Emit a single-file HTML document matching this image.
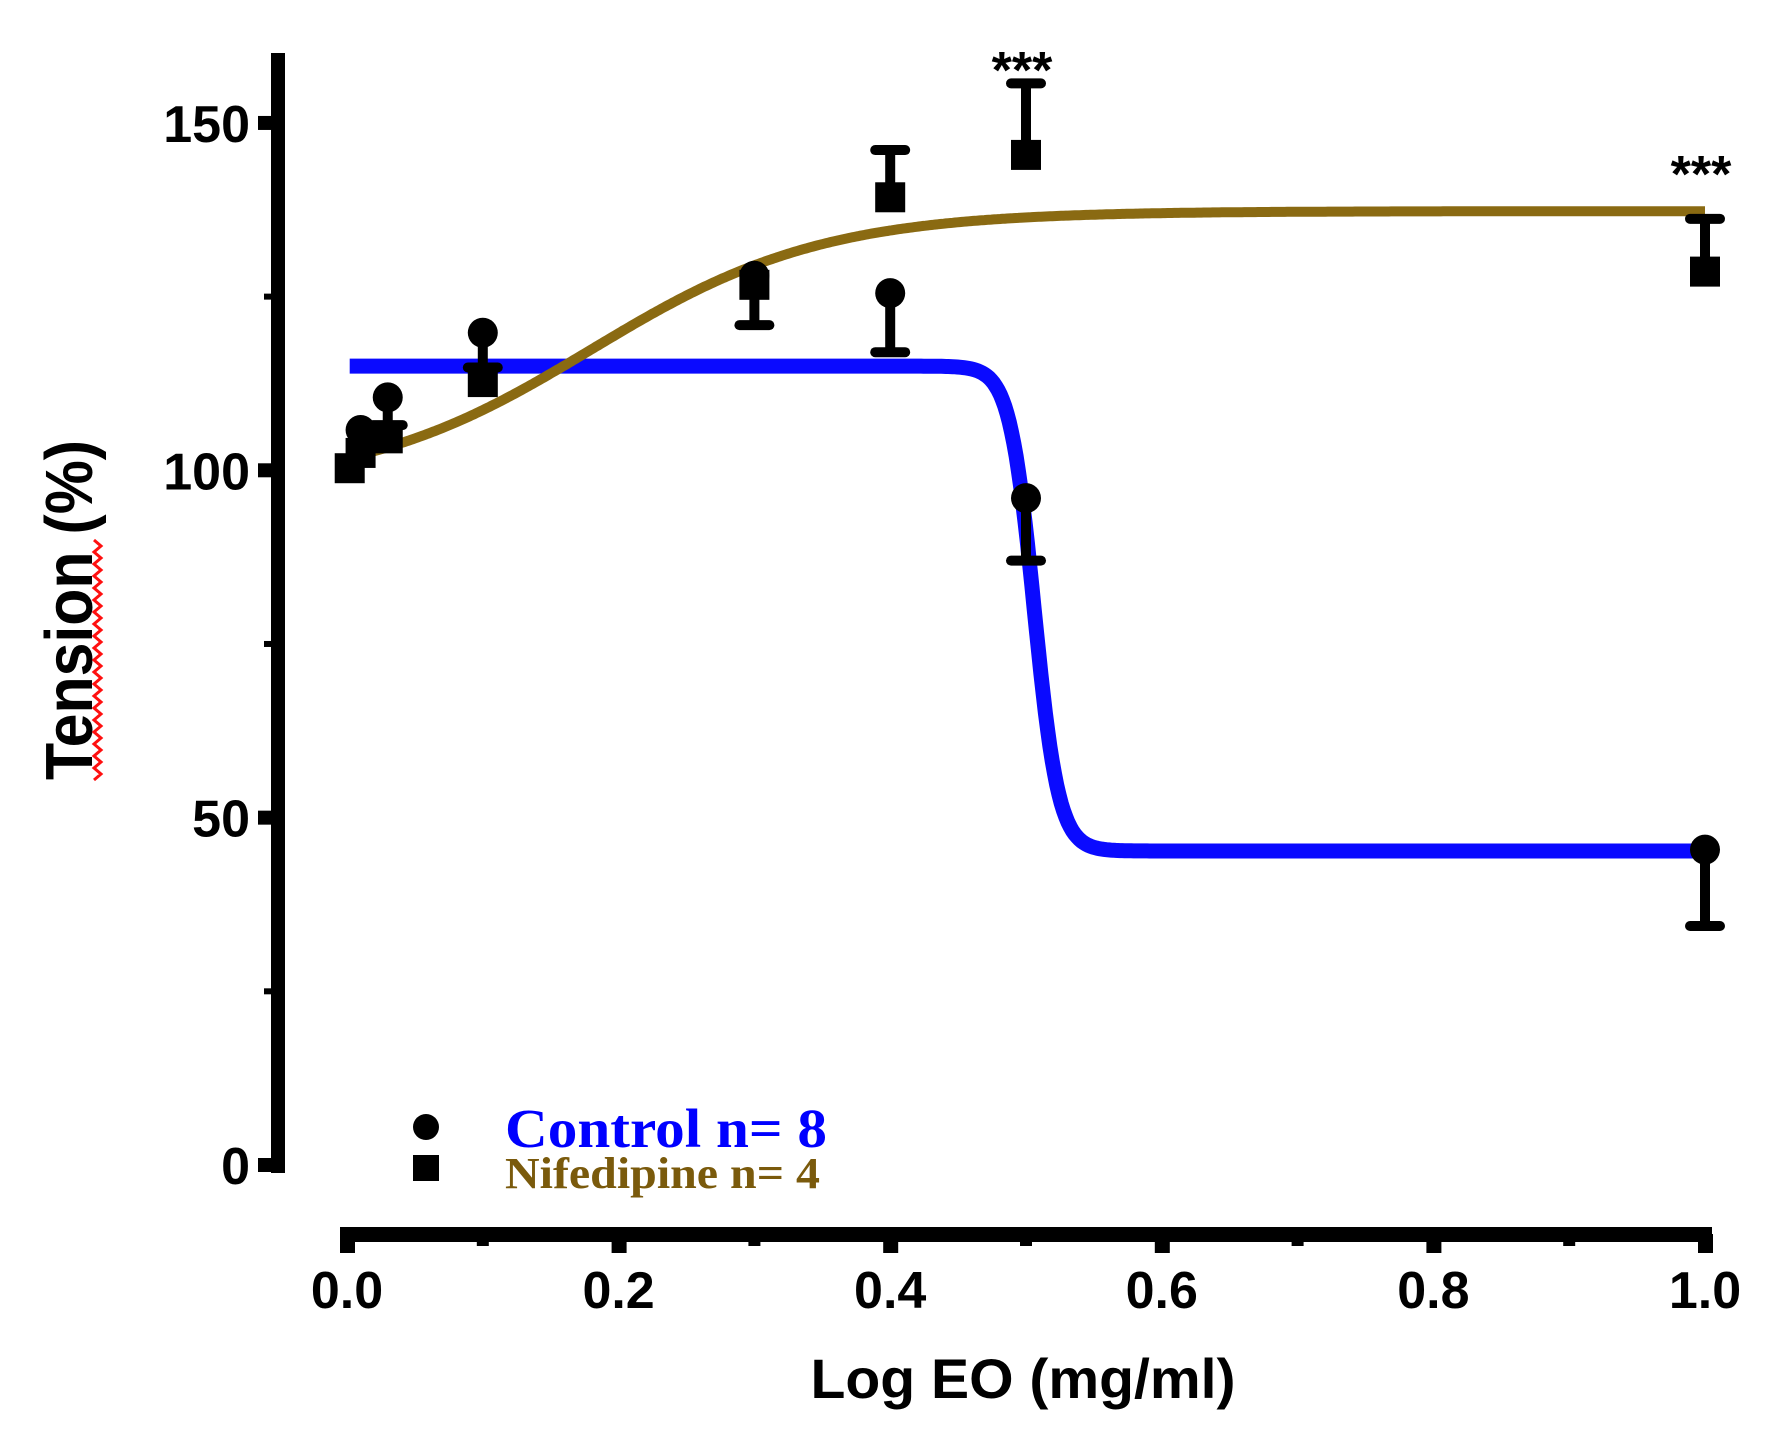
<!DOCTYPE html>
<html><head><meta charset="utf-8"><style>
html,body{margin:0;padding:0;background:#fff;}
svg{display:block;}
text{font-family:"Liberation Sans",sans-serif;font-weight:bold;}
</style></head><body>
<svg id="chart" width="1768" height="1429" viewBox="0 0 1768 1429" xmlns="http://www.w3.org/2000/svg">
<g id="axes"></g>
<g id="curves"></g>
<g id="marks"></g>
<g id="labels">
<text x="0" y="0" transform="translate(92,610) rotate(-90)" text-anchor="middle" font-size="67" textLength="340" lengthAdjust="spacingAndGlyphs" fill="#000">Tension (%)</text>
<polyline id="squiggle" fill="none" stroke="#ff1010" stroke-width="3"></polyline>
<text x="1023" y="1398" text-anchor="middle" font-size="56" textLength="425" lengthAdjust="spacingAndGlyphs" fill="#000">Log EO (mg/ml)</text>
<circle cx="426" cy="1127" r="13" fill="#000"></circle>
<rect x="413" y="1155" width="26" height="26" fill="#000"></rect>
<text x="505" y="1147" style="font-family:'Liberation Serif',serif" font-size="55" textLength="322" lengthAdjust="spacingAndGlyphs" fill="#0000ff">Control n= 8</text>
<text x="505" y="1188" style="font-family:'Liberation Serif',serif" font-size="44" textLength="315" lengthAdjust="spacingAndGlyphs" fill="#7a5a0c">Nifedipine n= 4</text>
</g>
</svg>
<script>
const xTicks = [0, 0.2, 0.4, 0.6, 0.8, 1.0];
const xTickLabels = ["0.0", "0.2", "0.4", "0.6", "0.8", "1.0"];
const yTicks = [0, 50, 100, 150];
const yTickLabels = ["0", "50", "100", "150"];
const controlX = [0.01, 0.03, 0.1, 0.3, 0.4, 0.5, 1.0];
const controlY = [105.8, 110.5, 119.8, 128, 125.5, 96, 45.4];
const controlErr = [0, -4, -5, 0, -8.5, -9, -11];
const nifX = [0.002, 0.01, 0.03, 0.1, 0.3, 0.4, 0.5, 1.0];
const nifY = [100.3, 102.5, 104.6, 112.7, 126.7, 139.3, 145.4, 128.6];
const nifErr = [0, 0, 0, 0, -5.8, 6.8, 10.3, 7.6];
const controlFit = [115, 45.2, 0.506, 0.009]; // top, bottom, midpoint, slope
const nifFit = [97.5, 137.3, 0.18, 0.085]; // bottom, top, midpoint, slope
const starX = [0.5, 1.0];
const starY = [158.5, 143.5];

const NS = "http://www.w3.org/2000/svg";
const X = v => 347 + v * 1358;
const Y = v => 1165 - v * 6.947;
function mk(parent, tag, attrs) {
  const el = document.createElementNS(NS, tag);
  for (const k in attrs) el.setAttribute(k, attrs[k]);
  document.getElementById(parent).appendChild(el);
  return el;
}
let a = mk('axes','rect',{x:271,y:53,width:14,height:1120,fill:'#000'});


a = mk('axes','rect',{x:340,y:1227,width:1372,height:15,fill:'#000'});


yTicks.forEach((v,i)=>{
  const t = mk('axes','rect',{x:258,y:Y(v)-7,width:20,height:14,fill:'#000'});
  
  
  const l = mk('axes','text',{x:250,y:Y(v)+19,'text-anchor':'end','font-size':52,fill:'#000'});
  
  
  l.textContent = yTickLabels[i];
});
[25,75,125].forEach(v=>{
  const t = mk('axes','rect',{x:264,y:Y(v)-3,width:10,height:6,fill:'#000'});
  
  
});
xTicks.forEach((v,i)=>{
  const t = mk('axes','rect',{x:X(v)-7,y:1234,width:15,height:19,fill:'#000'});
  
  
  const l = mk('axes','text',{x:X(v),y:1308,'text-anchor':'middle','font-size':52,fill:'#000'});
  
  
  l.textContent = xTickLabels[i];
});
[0.1,0.3,0.5,0.7,0.9].forEach(v=>{
  const t = mk('axes','rect',{x:X(v)-6,y:1234,width:12,height:12,fill:'#000'});
  
  
});
let sq = [];
for (let y=540, k=0; y<=780; y+=6, k++) sq.push(((k%2)?101:94)+','+y);
document.getElementById('squiggle').setAttribute('points', sq.join(' '));
function pathFrom(fn, x0, x1) {
  let d = '';
  for (let i=0;i<=600;i++){ const x = x0+(x1-x0)*i/600; d += (i?'L':'M')+X(x).toFixed(1)+','+Y(fn(x)).toFixed(1); }
  return d;
}
const cf = x => controlFit[1] + (controlFit[0]-controlFit[1])/(1+Math.exp((x-controlFit[2])/controlFit[3]));
const nf = x => nifFit[0] + (nifFit[1]-nifFit[0])/(1+Math.exp((nifFit[2]-x)/nifFit[3]));
let p = mk('curves','path',{d:pathFrom(cf,0.002,1.0),fill:'none',stroke:'#0a0aff','stroke-width':15});


p = mk('curves','path',{d:pathFrom(nf,0.002,1.0),fill:'none',stroke:'#8a6a12','stroke-width':10});


function errBar(x, y, e, name) {
  if (!e) return;
  const ln = mk('marks','line',{x1:X(x),x2:X(x),y1:Y(y),y2:Y(y+e),stroke:'#000','stroke-width':10});
  
  
  const cap = mk('marks','line',{x1:X(x)-15,x2:X(x)+15,y1:Y(y+e),y2:Y(y+e),stroke:'#000','stroke-width':10,'stroke-linecap':'round'});
  
  
}
nifX.forEach((x,i)=>{
  errBar(x, nifY[i], nifErr[i], 'nifedipine-error-bar');
  const r = mk('marks','rect',{x:X(x)-15,y:Y(nifY[i])-15,width:30,height:30,fill:'#000'});
  
  
});
controlX.forEach((x,i)=>{
  errBar(x, controlY[i], controlErr[i], 'control-error-bar');
  const c = mk('marks','circle',{cx:X(x),cy:Y(controlY[i]),r:15,fill:'#000'});
  
  
});
starX.forEach((x,i)=>{
  const s = mk('marks','text',{x:X(x)-4,y:Y(starY[i])+24,'text-anchor':'middle','font-size':52,fill:'#000'});
  
  
  s.textContent = '***';
});
</script>
</body></html>
